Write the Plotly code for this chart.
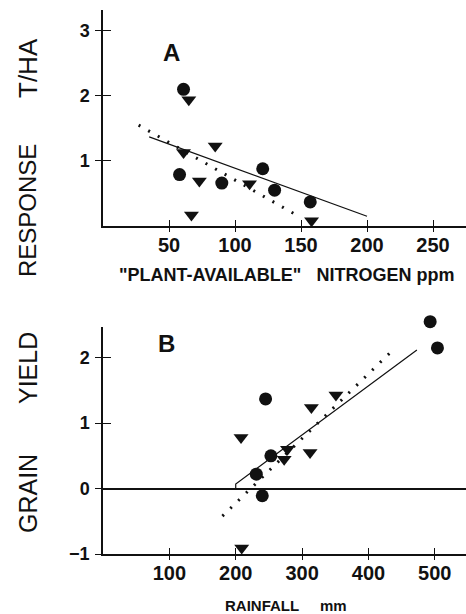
import plotly.graph_objects as go

# ---- Panel A data: response vs plant-available nitrogen ----
a_circle_x = [61, 58, 90, 121, 130, 157]
a_circle_y = [2.10, 0.79, 0.66, 0.88, 0.55, 0.37]
a_tri_x = [65, 61, 85, 73, 67, 111, 158]
a_tri_y = [1.94, 1.13, 1.23, 0.69, 0.17, 0.65, 0.08]
a_solid_x = [35, 200]
a_solid_y = [1.37, 0.15]
a_dot_x = [27, 149]
a_dot_y = [1.55, 0.14]

# ---- Panel B data: response vs rainfall ----
b_circle_x = [493, 504, 245, 253, 231, 240]
b_circle_y = [2.55, 2.15, 1.37, 0.50, 0.22, -0.11]
b_tri_x = [208, 314, 351, 278, 273, 312, 209]
b_tri_y = [0.78, 1.24, 1.43, 0.60, 0.45, 0.55, -0.91]
b_solid_x = [200, 200, 473]
b_solid_y = [0.0, 0.07, 2.12]
b_dot_x = [180, 440]
b_dot_y = [-0.42, 2.15]

a_xticks = [50, 100, 150, 200, 250]
a_yticks = [1, 2, 3]
b_xticks = [100, 200, 300, 400, 500]
b_yticks = [-1, 0, 1, 2]

W, H = 466, 614
ink = "#111111"
font_family = "Liberation Sans, Arial, sans-serif"

fig = go.Figure()

def add_lines(xa, ya, sx, sy, dx, dy):
    fig.add_trace(go.Scatter(x=dx, y=dy, mode="lines", xaxis=xa, yaxis=ya,
                             line=dict(color=ink, width=3, dash="2px,9px"),
                             showlegend=False, hoverinfo="skip"))
    fig.add_trace(go.Scatter(x=sx, y=sy, mode="lines", xaxis=xa, yaxis=ya,
                             line=dict(color=ink, width=1.2),
                             showlegend=False, hoverinfo="skip"))

def add_markers(xa, ya, cx, cy, tx, ty):
    fig.add_trace(go.Scatter(x=cx, y=cy, mode="markers", xaxis=xa, yaxis=ya,
                             marker=dict(symbol="circle", size=13, color=ink,
                                         line=dict(width=0)),
                             cliponaxis=False, showlegend=False))
    fig.add_trace(go.Scatter(x=tx, y=ty, mode="markers", xaxis=xa, yaxis=ya,
                             marker=dict(symbol="triangle-down", size=13, color=ink,
                                         line=dict(width=0)),
                             cliponaxis=False, showlegend=False))

add_lines("x", "y", a_solid_x, a_solid_y, a_dot_x, a_dot_y)
add_markers("x", "y", a_circle_x, a_circle_y, a_tri_x, a_tri_y)
add_lines("x2", "y2", b_solid_x, b_solid_y, b_dot_x, b_dot_y)
# panel B markers on a hidden, taller axis pair with the same scale so the top point shows
add_markers("x5", "y5", b_circle_x, b_circle_y, b_tri_x, b_tri_y)

# dummy traces so overlay axes (inside ticks) are drawn
fig.add_trace(go.Scatter(x=[], y=[], xaxis="x3", yaxis="y3", showlegend=False))
fig.add_trace(go.Scatter(x=[], y=[], xaxis="x4", yaxis="y4", showlegend=False))

def px_to_paper_y(p):
    return 1 - p / H

xdom = [103 / W, 1.0]
a_ydom = [px_to_paper_y(226), px_to_paper_y(10)]
b_ydom = [px_to_paper_y(554), px_to_paper_y(327)]
b_ydom_tall = [px_to_paper_y(554), px_to_paper_y(300)]
a_xrange = [0, 275]
a_yrange = [0, 3.32]
b_xrange = [0, 547]
b_yrange = [-1, 2.47]
b_yrange_tall = [-1, 2.882]

tickfont_x = dict(family=font_family, size=20, color=ink, weight="bold")
tickfont_y = dict(family=font_family, size=18, color=ink, weight="bold")

def main_x(rng, ticks, anchor, dom):
    return dict(domain=dom, range=rng, tickvals=ticks, anchor=anchor,
                showline=True, linecolor=ink, linewidth=1.5, showgrid=False,
                zeroline=False, ticks="outside", ticklen=4, tickwidth=1.2,
                tickcolor=ink, tickfont=tickfont_x, fixedrange=True,
                automargin=False, ticklabelstandoff=-4)

def main_y(rng, ticks, anchor, dom, zl):
    return dict(domain=dom, range=rng, tickvals=ticks, anchor=anchor,
                showline=True, linecolor=ink, linewidth=1.5, showgrid=False,
                zeroline=zl, zerolinecolor=ink, zerolinewidth=1.5,
                ticks="outside", ticklen=6, tickwidth=1.2, tickcolor=ink,
                tickfont=tickfont_y, fixedrange=True, automargin=False,
                ticklabelstandoff=2)

def inner_x(rng, ticks, anchor, over, dom):
    return dict(domain=dom, range=rng, tickvals=ticks, anchor=anchor,
                overlaying=over, showline=False, showgrid=False, zeroline=False,
                ticks="inside", ticklen=6, tickwidth=1.2, tickcolor=ink,
                showticklabels=False, fixedrange=True, automargin=False)

def inner_y(rng, ticks, anchor, over, dom):
    return dict(domain=dom, range=rng, tickvals=ticks, anchor=anchor,
                overlaying=over, showline=False, showgrid=False, zeroline=False,
                ticks="inside", ticklen=8, tickwidth=1.2, tickcolor=ink,
                showticklabels=False, fixedrange=True, automargin=False)

def hidden_axis(rng, anchor, dom):
    return dict(domain=dom, range=rng, anchor=anchor, showline=False,
                showgrid=False, zeroline=False, ticks="", showticklabels=False,
                fixedrange=True, automargin=False)

fig.update_layout(
    template="none",
    width=W, height=H,
    margin=dict(l=0, r=0, t=0, b=0, pad=0),
    paper_bgcolor="white", plot_bgcolor="rgba(0,0,0,0)",
    xaxis=main_x(a_xrange, a_xticks, "y", xdom),
    yaxis=main_y(a_yrange, a_yticks, "x", a_ydom, False),
    xaxis2=main_x(b_xrange, b_xticks, "y2", xdom),
    yaxis2=main_y(b_yrange, b_yticks, "x2", b_ydom, True),
    xaxis3=inner_x(a_xrange, a_xticks, "y3", "x", xdom),
    yaxis3=inner_y(a_yrange, a_yticks, "x3", "y", a_ydom),
    xaxis4=inner_x(b_xrange, b_xticks, "y4", "x2", xdom),
    yaxis4=inner_y(b_yrange, b_yticks, "x4", "y2", b_ydom),
    xaxis5=hidden_axis(b_xrange, "y5", xdom),
    yaxis5=hidden_axis(b_yrange_tall, "x5", b_ydom_tall),
)

ann_font_big = dict(family=font_family, size=24, color=ink)

def ann(text, xpx, ypx, font, angle=0):
    return dict(text=text, x=xpx / W, y=px_to_paper_y(ypx), xref="paper", yref="paper",
                xanchor="center", yanchor="middle", textangle=angle,
                showarrow=False, font=font)

bold24 = dict(family=font_family, size=24, color=ink, weight="bold")
annotations = [
    ann("A", 171, 52, bold24),
    ann("B", 166, 343, bold24),
    ann("RESPONSE", 28, 211, ann_font_big, -90),
    ann("T/HA", 28, 68, dict(family=font_family, size=26, color=ink), -90),
    ann("GRAIN", 28, 494, dict(family=font_family, size=25, color=ink), -90),
    ann("YIELD", 28, 368, dict(family=font_family, size=25, color=ink), -90),
    ann('"PLANT-AVAILABLE"&nbsp;&nbsp;&nbsp;NITROGEN ppm', 286, 275,
        dict(family=font_family, size=18, color=ink, weight="bold")),
    ann("RAINFALL&nbsp;&nbsp;&nbsp;&nbsp;&nbsp;mm", 286, 605,
        dict(family=font_family, size=15, color=ink, weight="bold")),
]
fig.update_layout(annotations=annotations)

fig.write_html("out.html", config={"displayModeBar": False},
               post_script="document.body.style.margin='0';document.body.style.padding='0';")
